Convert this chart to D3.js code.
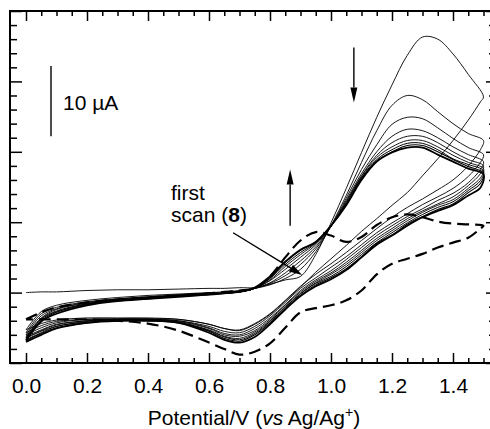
<!DOCTYPE html>
<html>
<head>
<meta charset="utf-8">
<script src="https://cdn.jsdelivr.net/npm/d3@7"></script>
<style>
body { margin: 0; background: #fff; }
svg text { font-family: "Liberation Sans", Arial, Helvetica, sans-serif; fill: #000; }
</style>
</head>
<body>
<div id="chart"></div>
<script>
// potentials (V vs Ag/Ag+) for the forward and reverse sweeps
const vFwd = [0, 0.05, 0.1, 0.2, 0.3, 0.4, 0.5, 0.6, 0.65, 0.7, 0.75, 0.8, 0.85, 0.9, 0.95, 1.0, 1.05, 1.1, 1.15, 1.2, 1.25, 1.3, 1.35, 1.4, 1.45, 1.5];
const vRev = [1.5, 1.49, 1.45, 1.4, 1.35, 1.3, 1.25, 1.2, 1.15, 1.1, 1.05, 1.0, 0.95, 0.9, 0.85, 0.8, 0.75, 0.7, 0.65, 0.6, 0.5, 0.4, 0.3, 0.2, 0.1, 0.05, 0];

// currents (uA), one array per sweep
const scan1Fwd = [0, 0.1, 0.1, 0.3, 0.4, 0.4, 0.5, 0.6, 0.6, 0.7, 0.7, 1.2, 1.8, 2.3, 5.4, 9.9, 14.8, 19.9, 24.9, 29.5, 33.7, 36.3, 36.0, 33.9, 31.0, 27.8];
const scan1Rev = [27.8, 27.1, 24.5, 21.6, 19.0, 16.6, 14.2, 12.4, 10.5, 8.7, 6.7, 4.8, 2.9, 0.8, -1.2, -3.1, -4.5, -5.4, -5.1, -4.5, -3.8, -3.6, -3.6, -3.6, -3.9, -4.4, -5.3];
const scan2Fwd = [-5.3, -2.7, -1.8, -1.1, -0.7, -0.4, -0.2, 0, 0.1, 0.3, 0.6, 1.1, 2.0, 3.3, 5.8, 9.5, 13.8, 18.5, 23.0, 26.6, 28.0, 27.4, 25.7, 24.0, 22.6, 21.6];
const scan2Rev = [21.6, 20.3, 18.0, 16.0, 14.6, 13.3, 12.1, 10.7, 9.1, 7.4, 5.7, 4.1, 2.6, 0.9, -1.1, -3.0, -4.4, -5.3, -5.1, -4.5, -3.8, -3.7, -3.7, -3.8, -4.1, -4.7, -5.7];
const scan3Fwd = [-5.7, -3.0, -2.1, -1.3, -0.9, -0.6, -0.3, -0.1, 0, 0.2, 0.6, 1.3, 2.4, 4.0, 6.2, 9.4, 13.4, 17.5, 21.0, 23.9, 24.9, 24.7, 23.4, 21.9, 20.6, 19.6];
const scan3Rev = [19.6, 18.5, 16.5, 14.8, 13.6, 12.5, 11.2, 9.9, 8.5, 6.8, 5.1, 3.6, 2.1, 0.6, -1.4, -3.3, -4.8, -5.7, -5.5, -4.8, -4.0, -3.8, -3.8, -3.8, -4.3, -5.0, -6.0];
const scan4Fwd = [-6.0, -3.3, -2.3, -1.4, -0.9, -0.6, -0.4, -0.1, 0, 0.2, 0.6, 1.4, 2.8, 4.5, 6.5, 9.4, 13.1, 16.9, 20.0, 22.2, 23.2, 23.0, 22.0, 20.7, 19.6, 18.6];
const scan4Rev = [18.6, 17.5, 15.6, 14.1, 13.1, 11.9, 10.8, 9.5, 8.1, 6.4, 4.7, 3.1, 1.8, 0.3, -1.7, -3.6, -5.1, -6.0, -5.8, -5.0, -4.0, -3.8, -3.8, -4.0, -4.5, -5.3, -6.2];
const scan5Fwd = [-6.2, -3.6, -2.4, -1.5, -1.0, -0.7, -0.4, -0.1, -0.1, 0.1, 0.6, 1.7, 3.3, 5.0, 6.8, 9.4, 12.9, 16.6, 19.5, 21.3, 22.2, 22.2, 21.3, 20.0, 18.9, 18.0];
const scan5Rev = [18.0, 16.9, 15.2, 13.6, 12.6, 11.6, 10.5, 9.1, 7.7, 6.0, 4.3, 2.8, 1.6, 0.1, -1.8, -3.8, -5.4, -6.2, -6.0, -5.1, -4.1, -3.8, -3.8, -4.0, -4.6, -5.4, -6.4];
const scan6Fwd = [-6.4, -3.7, -2.6, -1.6, -1.1, -0.7, -0.4, -0.2, -0.1, 0.1, 0.6, 1.8, 3.7, 5.4, 7.0, 9.4, 12.8, 16.5, 19.2, 20.7, 21.6, 21.6, 20.7, 19.5, 18.5, 17.6];
const scan6Rev = [17.6, 16.3, 14.8, 13.2, 12.4, 11.4, 10.2, 8.8, 7.4, 5.7, 4.0, 2.6, 1.4, -0.1, -2.0, -4.0, -5.6, -6.5, -6.2, -5.3, -4.2, -3.9, -3.9, -4.1, -4.8, -5.5, -6.5];
const scan7Fwd = [-6.5, -3.8, -2.7, -1.6, -1.1, -0.8, -0.5, -0.2, -0.1, 0.1, 0.6, 2.0, 4.0, 5.7, 7.1, 9.5, 12.6, 16.3, 18.9, 20.3, 21.2, 21.2, 20.3, 19.0, 18.2, 17.3];
const scan7Rev = [17.3, 15.9, 14.5, 12.9, 12.1, 11.1, 9.9, 8.5, 7.1, 5.4, 3.7, 2.3, 1.3, -0.2, -2.1, -4.1, -5.8, -6.7, -6.3, -5.4, -4.2, -3.9, -4.0, -4.2, -4.8, -5.7, -6.7];
const scan8Fwd = [-6.7, -4.0, -2.8, -1.7, -1.1, -0.9, -0.5, -0.3, -0.1, 0.1, 0.7, 2.1, 4.3, 6.0, 7.2, 9.5, 12.5, 16.2, 18.7, 20.0, 20.9, 20.9, 20.0, 18.9, 17.9, 17.0];
const scan8Rev = [17.0, 15.5, 14.2, 12.6, 11.8, 10.8, 9.7, 8.2, 7.0, 5.1, 3.4, 2.1, 1.1, -0.4, -2.3, -4.3, -6.0, -6.9, -6.5, -5.5, -4.3, -4.0, -4.0, -4.3, -5.0, -5.8, -6.8];
const scan9Fwd = [-6.8, -4.1, -3.0, -1.8, -1.2, -0.9, -0.6, -0.3, -0.1, 0.1, 0.7, 2.3, 4.4, 6.1, 7.2, 9.5, 12.4, 16.0, 18.6, 19.9, 20.6, 20.6, 19.6, 18.6, 17.6, 16.8];
const scan9Rev = [16.8, 14.9, 13.8, 12.4, 11.6, 10.7, 9.5, 8.1, 6.8, 5.0, 3.2, 1.9, 0.9, -0.5, -2.4, -4.5, -6.3, -7.1, -6.7, -5.7, -4.3, -4.0, -4.0, -4.3, -5.1, -6.0, -7.0];
// dashed reference scan
const dashFwd = [-3.8, -2.8, -2.1, -1.4, -1.0, -0.7, -0.4, -0.1, 0.1, 0.3, 0.6, 2.3, 5.0, 7.4, 8.6, 8.1, 7.2, 7.9, 9.6, 10.7, 11.1, 10.7, 10.1, 9.8, 9.7, 9.5];
const dashRev = [9.5, 9.1, 7.8, 7.1, 6.4, 5.5, 4.8, 4.1, 2.6, 0.3, -1.1, -1.8, -2.2, -2.8, -5.0, -7.2, -8.4, -8.8, -8.0, -7.1, -5.4, -4.4, -4.0, -3.8, -3.8, -3.8, -3.8];

const xTicks = [0, 0.2, 0.4, 0.6, 0.8, 1.0, 1.2, 1.4];
const xTickLabels = ["0.0", "0.2", "0.4", "0.6", "0.8", "1.0", "1.2", "1.4"];
const yTicks = [-10, 0, 10, 20, 30, 40];

var width = 490;
var height = 429;
var fontSize = 21;
var plot = { left: 10, top: 11, right: 492, bottom: 363 };

var x = d3.scaleLinear().domain([0, 1.5]).range([26, 483.5]);
var y = d3.scaleLinear().domain([-10, 40]).range([plot.bottom, plot.top]);

var svg = d3.select("#chart").append("svg")
    .attr("width", width)
    .attr("height", height);

// ---- ticks (all pointing inwards) ----
var minorX = d3.range(0, 1.5001, 0.05).filter(v => Math.abs(v * 5 - Math.round(v * 5)) > 1e-6);
var minorY = d3.range(-10, 40.001, 2).filter(v => v % 10 !== 0);

function tickAxis(axis, tr, size, values, fmt) {
    var g = svg.append("g")
        .attr("transform", tr)
        .call(axis.tickValues(values).tickSize(size).tickPadding(15).tickFormat(fmt || ""));
    g.select(".domain").remove();
    g.selectAll("line").attr("stroke", "#000").attr("stroke-width", 1.5);
    return g;
}

var xAxisG = tickAxis(d3.axisBottom(x), `translate(0,${plot.bottom})`, -10, xTicks, (d, i) => xTickLabels[i]);
xAxisG.selectAll("text")
    .attr("font-family", "'Liberation Sans', Arial, sans-serif")
    .attr("font-size", fontSize)
    .attr("fill", "#000");
tickAxis(d3.axisBottom(x), `translate(0,${plot.bottom})`, -5, minorX);
tickAxis(d3.axisTop(x), `translate(0,${plot.top})`, -10, xTicks);
tickAxis(d3.axisTop(x), `translate(0,${plot.top})`, -5, minorX);
tickAxis(d3.axisLeft(y), `translate(${plot.left},0)`, -12, yTicks);
tickAxis(d3.axisLeft(y), `translate(${plot.left},0)`, -7, minorY);
tickAxis(d3.axisRight(y), `translate(${plot.right},0)`, -6, yTicks);
tickAxis(d3.axisRight(y), `translate(${plot.right},0)`, -3, minorY);

svg.append("rect")
    .attr("x", plot.left)
    .attr("y", plot.top)
    .attr("width", plot.right - plot.left)
    .attr("height", plot.bottom - plot.top)
    .attr("fill", "none")
    .attr("stroke", "#000")
    .attr("stroke-width", 2);

// ---- voltammograms ----
var line = d3.line()
    .x(d => x(d[0]))
    .y(d => y(d[1]))
    .curve(d3.curveCatmullRom.alpha(0.5));

function loop(fwd, rev) {
    return d3.zip(vFwd, fwd).concat(d3.zip(vRev, rev).slice(1));
}

var scans = [
    [scan1Fwd, scan1Rev, 0.9],
    [scan2Fwd, scan2Rev, 0.9],
    [scan3Fwd, scan3Rev, 0.9],
    [scan4Fwd, scan4Rev, 0.9],
    [scan5Fwd, scan5Rev, 0.9],
    [scan6Fwd, scan6Rev, 0.9],
    [scan7Fwd, scan7Rev, 1],
    [scan8Fwd, scan8Rev, 1.1],
    [scan9Fwd, scan9Rev, 1.8]
];

var g = svg.append("g");
scans.forEach(function (s) {
    g.append("path")
        .attr("d", line(loop(s[0], s[1])))
        .attr("fill", "none")
        .attr("stroke", "#000")
        .attr("stroke-width", s[2]);
});

g.append("path")
    .attr("d", line(loop(dashFwd, dashRev)))
    .attr("fill", "none")
    .attr("stroke", "#000")
    .attr("stroke-width", 2.2)
    .attr("stroke-dasharray", "12,6");

// ---- arrows ----
function arrow(x0, y0, x1, y1, len, half) {
    var px0 = x(x0), py0 = y(y0), px1 = x(x1), py1 = y(y1);
    var dx = px1 - px0, dy = py1 - py0, L = Math.hypot(dx, dy);
    var ux = dx / L, uy = dy / L;
    var bx = px1 - ux * len, by = py1 - uy * len;
    svg.append("line")
        .attr("x1", px0).attr("y1", py0)
        .attr("x2", bx).attr("y2", by)
        .attr("stroke", "#000").attr("stroke-width", 1.4);
    svg.append("path")
        .attr("d", `M${px1},${py1}L${bx - uy * half},${by + ux * half}L${bx + uy * half},${by - ux * half}Z`)
        .attr("fill", "#000");
}

arrow(1.075, 34.8, 1.075, 27.0, 15, 3.5);   // peak decreasing
arrow(0.866, 9.5, 0.866, 17.5, 15, 3.5);    // shoulder growing
arrow(0.679, 8.5, 0.905, 2.5, 13, 4);       // first scan pointer

// ---- scale bar ----
var bar = { v: 0.082, base: 22.2, size: 10 };
svg.append("line")
    .attr("x1", x(bar.v)).attr("x2", x(bar.v))
    .attr("y1", y(bar.base)).attr("y2", y(bar.base + bar.size))
    .attr("stroke", "#000").attr("stroke-width", 1.4);
svg.append("text")
    .attr("x", x(bar.v) + 12)
    .attr("y", 110)
    .attr("font-size", fontSize)
    .text("10 \u00B5A");

// ---- annotation ----
svg.append("text").attr("x", 171).attr("y", 200).attr("font-size", fontSize).text("first");
var sc = svg.append("text").attr("x", 171).attr("y", 222).attr("font-size", fontSize);
sc.append("tspan").text("scan (");
sc.append("tspan").attr("font-weight", "bold").text("8");
sc.append("tspan").text(")");

// ---- x title ----
var title = svg.append("text")
    .attr("x", 254)
    .attr("y", 425)
    .attr("text-anchor", "middle")
    .attr("font-size", fontSize);
title.append("tspan").text("Potential/V (");
title.append("tspan").attr("font-style", "italic").text("vs");
title.append("tspan").text(" Ag/Ag");
title.append("tspan").attr("font-size", 14).attr("dy", -8).text("+");
title.append("tspan").attr("dy", 8).text(")");
</script>
</body>
</html>
